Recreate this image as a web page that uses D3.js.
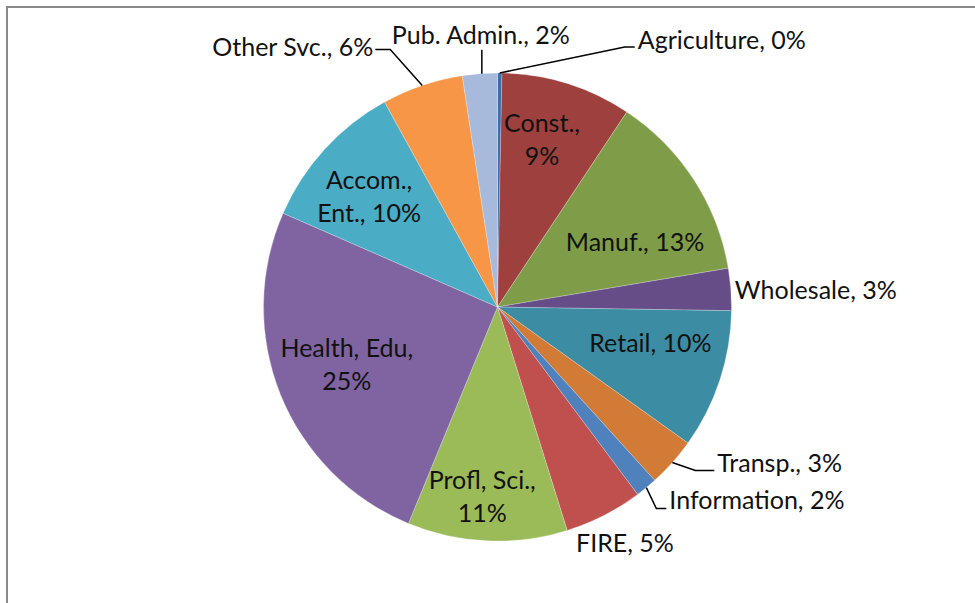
<!DOCTYPE html>
<html>
<head>
<meta charset="utf-8">
<script src="https://cdn.jsdelivr.net/npm/d3@7"></script>
<style>
	body { margin: 0; background: #fff; }
	text { font-family: Lato, "Open Sans", sans-serif; fill: #111; }
</style>
</head>
<body>
<div id="chart"></div>
<script>
// industry shares (percent), clockwise from 12 o'clock
const categories = ['Agriculture', 'Const.', 'Manuf.', 'Wholesale', 'Retail', 'Transp.', 'Information',
	'FIRE', 'Profl, Sci.', 'Health, Edu', 'Accom., Ent.', 'Other Svc.', 'Pub. Admin.'];
const values = [0.3, 9.0, 13.0, 2.9, 9.6, 3.4, 1.5, 5.4, 11.0, 25.3, 10.4, 5.6, 2.4];
const colors = ['#3e6da7', '#9e413e', '#7f9c48', '#664d87', '#3c8da3', '#d27b36', '#4f81bd',
	'#c0504d', '#9bbb59', '#8064a2', '#4bacc6', '#f79646', '#a8badb'];

// label placement (inside: radial factor + nudge; outside: offset from slice edge + leader)
const labelLayout = {
	'Agriculture': { mode: 'out', dx: 138, dy: -33, anchor: 'start', leader: 'left' },
	'Const.': { mode: 'in', k: 0.74, nx: -7, ny: -2, wrap: 1 },
	'Manuf.': { mode: 'in', k: 0.65, nx: 10, ny: 18 },
	'Wholesale': { mode: 'out', dx: 4, dy: 1, anchor: 'start' },
	'Retail': { mode: 'in', k: 0.67, nx: 4, ny: -13 },
	'Transp.': { mode: 'out', dx: 45, dy: 1, anchor: 'start', leader: 'left' },
	'Information': { mode: 'out', dx: 23, dy: 13, anchor: 'start', leader: 'left' },
	'FIRE': { mode: 'out', dx: 21, dy: 28, anchor: 'middle' },
	'Profl, Sci.': { mode: 'in', k: 0.81, nx: -7, ny: 0, wrap: 2 },
	'Health, Edu': { mode: 'in', k: 0.69, nx: -1, ny: -3, wrap: 2 },
	'Accom., Ent.': { mode: 'in', k: 0.72, nx: -4, ny: 3, wrap: 1 },
	'Other Svc.': { mode: 'out', dx: -49, dy: -38, anchor: 'end', leader: 'right' },
	'Pub. Admin.': { mode: 'out', dx: 1, dy: -38, anchor: 'middle', leader: 'up' },
};

const width = 975, height = 603;
const cx = 497.5, cy = 307, radius = 234;
const fontSize = 25, lineHeight = 33;

const data = categories.map((c, i) => ({ name: c, value: values[i], color: colors[i] }));
const total = d3.sum(values);
const pct = d3.format('.0%');

const svg = d3.select('#chart').append('svg')
	.attr('width', width)
	.attr('height', height);

// chart area frame (runs off the right and bottom edges)
svg.append('rect')
	.attr('x', 7).attr('y', 7)
	.attr('width', width + 20).attr('height', height + 20)
	.attr('fill', 'none')
	.attr('stroke', '#8a8a8a')
	.attr('stroke-width', 2);

const g = svg.append('g').attr('transform', `translate(${cx}, ${cy})`);

const pie = d3.pie().sort(null).value(d => d.value);
const arc = d3.arc().innerRadius(0).outerRadius(radius);
const arcs = pie(data);

g.selectAll('.slice')
	.data(arcs)
	.join('path')
	.attr('class', 'slice')
	.attr('d', arc)
	.attr('fill', d => d.data.color)
	.attr('stroke', 'rgba(255,255,255,0.4)')
	.attr('stroke-width', 0.6);

const midAngle = d => (d.startAngle + d.endAngle) / 2;
const polar = (a, r) => [r * Math.sin(a), -r * Math.cos(a)];

// labels
arcs.forEach(d => {
	const lay = labelLayout[d.data.name];
	const text = `${d.data.name}, ${pct(d.data.value / total)}`;
	const a = midAngle(d);

	if (lay.mode === 'in') {
		const [px, py] = polar(a, radius * lay.k);
		const x = px + lay.nx, y = py + lay.ny;
		const words = text.split(' ');
		const lines = lay.wrap ? [words.slice(0, lay.wrap).join(' '), words.slice(lay.wrap).join(' ')] : [text];
		const t = g.append('text')
			.attr('text-anchor', 'middle')
			.attr('font-size', fontSize)
			.attr('x', x)
			.attr('y', y - (lines.length - 1) * lineHeight / 2);
		lines.forEach((l, i) => {
			t.append('tspan').attr('x', x).attr('dy', i === 0 ? '0.35em' : lineHeight).text(l);
		});
	} else {
		const [ex, ey] = polar(a, radius);
		const tx = ex + lay.dx, ty = ey + lay.dy;
		g.append('text')
			.attr('text-anchor', lay.anchor)
			.attr('font-size', fontSize)
			.attr('x', tx)
			.attr('y', ty)
			.attr('dy', '0.35em')
			.text(text);

		// leader lines
		let pts = null;
		if (lay.leader === 'left') {
			pts = [[ex, ey], [tx - (d.data.name === 'Agriculture' ? 13 : 22), ty + 7], [tx - 3, ty + 7]];
			if (d.data.name === 'Information') pts = [[ex, ey], [tx - 13, ty + 8], [tx - 3, ty + 8]];
		} else if (lay.leader === 'right') {
			pts = [[ex, ey], [tx + 17, ty + 2], [tx + 2, ty + 2]];
		} else if (lay.leader === 'up') {
			pts = [[ex + 2, ey], [ex + 2, ty + 14]];
		}
		if (pts) {
			g.append('path')
				.attr('d', d3.line()(pts))
				.attr('fill', 'none')
				.attr('stroke', '#000')
				.attr('stroke-width', 1.5);
		}
	}
});
</script>
</body>
</html>
